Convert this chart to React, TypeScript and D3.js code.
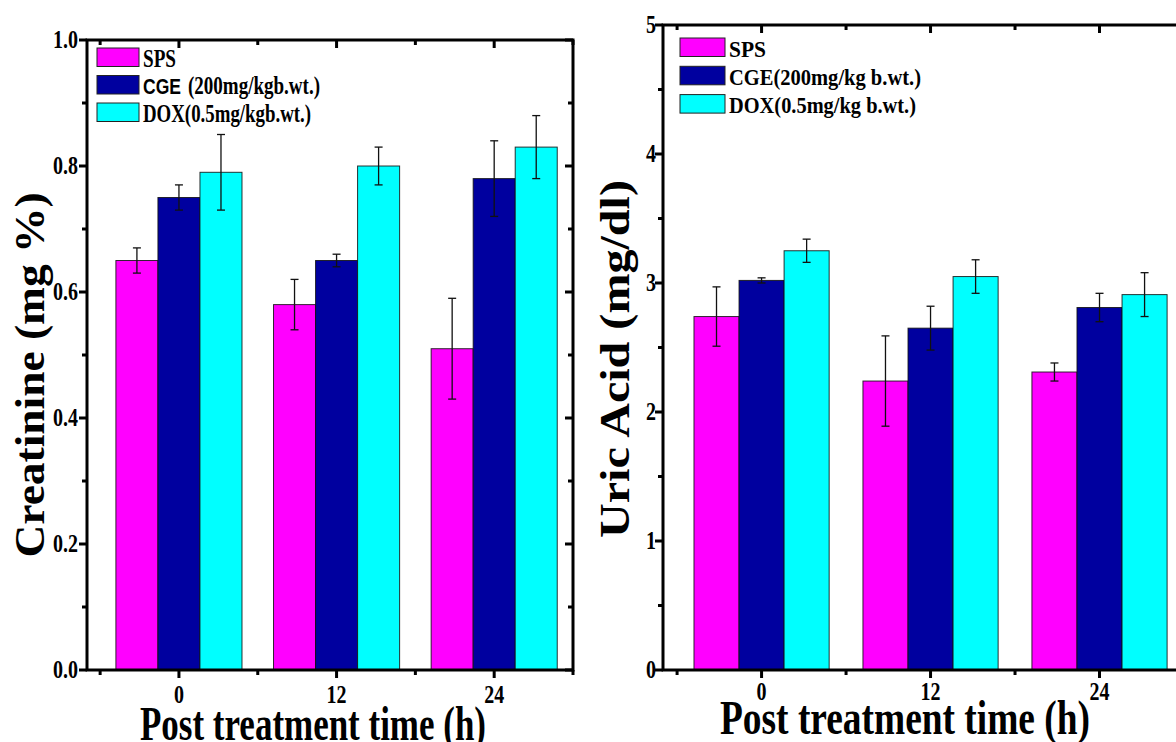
import * as d3 from 'd3';

// time points (h) and treatment groups
const timePoints = [0, 12, 24];
const groupColors = ['#ff00ff', '#00009f', '#00ffff'];

// Creatinine (mg %)
const creatSPS = [0.65, 0.58, 0.51];
const creatSPSErr = [0.02, 0.04, 0.08];
const creatCGE = [0.75, 0.65, 0.78];
const creatCGEErr = [0.02, 0.01, 0.06];
const creatDOX = [0.79, 0.8, 0.83];
const creatDOXErr = [0.06, 0.03, 0.05];

// Uric acid (mg/dl)
const uricSPS = [2.74, 2.24, 2.31];
const uricSPSErr = [0.23, 0.35, 0.07];
const uricCGE = [3.02, 2.65, 2.81];
const uricCGEErr = [0.02, 0.17, 0.11];
const uricDOX = [3.25, 3.05, 2.91];
const uricDOXErr = [0.09, 0.13, 0.17];

const creatTicks = [0, 0.2, 0.4, 0.6, 0.8, 1.0];
const creatMinor = [0.1, 0.3, 0.5, 0.7, 0.9];
const uricTicks = [0, 1, 2, 3, 4, 5];
const uricMinor = [0.5, 1.5, 2.5, 3.5, 4.5];
const xMajor = [0, 12, 24];
const xMinor = [-6, 6, 18, 30];

const SERIF = "'Liberation Serif', 'Times New Roman', serif";
const SANS = "'Liberation Sans', Arial, sans-serif";
const SQUEEZE = 0.8; // the original fonts are narrow

type LegendItem = { label: string; width: number; sans?: string; sansWidth?: number };

type PanelProps = {
  left: number;
  right: number;
  top: number;
  bottom: number;
  yMax: number;
  yTicks: number[];
  yMinor: number[];
  yFormat: (v: number) => string;
  means: number[][];
  errs: number[][];
  yTitle: string;
  yTitleLen: number;
  yTitleX: number;
  yTitleY: number;
  xTitleX: number;
  xTitleY: number;
  xTitleLen: number;
  xLabelY: number;
  yLabelX: number;
  legendX: number;
  legendY: number;
  legendStep: number;
  legendW: number;
  legendFont: number;
  legend: LegendItem[];
};

function Narrow({ x, y, anchor, size, children }: { x: number; y: number; anchor: string; size: number; children: any }) {
  return (
    <g transform={`translate(${x},${y}) scale(${SQUEEZE},1)`}>
      <text x={0} y={0} textAnchor={anchor} fontSize={size}>
        {children}
      </text>
    </g>
  );
}

function Panel(p: PanelProps) {
  const x = d3.scaleLinear().domain([-7, 30]).range([p.left, p.right]);
  const y = d3.scaleLinear().domain([0, p.yMax]).range([p.bottom, p.top]);
  const bw = x(3.2) - x(0);
  const major = 8;
  const minor = 5;

  return (
    <g>
      {timePoints.map((t, ti) =>
        p.means.map((m, gi) => {
          const bx = x(t - 4.8 + gi * 3.2);
          return (
            <rect
              key={`b${ti}-${gi}`}
              x={bx}
              y={y(m[ti])}
              width={bw}
              height={y(0) - y(m[ti])}
              fill={groupColors[gi]}
              stroke="#111"
              strokeWidth={1}
              strokeOpacity={0.85}
            />
          );
        })
      )}
      {timePoints.map((t, ti) =>
        p.means.map((m, gi) => {
          const cx = x(t - 3.2 + gi * 3.2);
          const hi = y(m[ti] + p.errs[gi][ti]);
          const lo = y(m[ti] - p.errs[gi][ti]);
          return (
            <g key={`e${ti}-${gi}`} stroke="#111" strokeWidth={1.3}>
              <line x1={cx} x2={cx} y1={hi} y2={lo} />
              <line x1={cx - 4} x2={cx + 4} y1={hi} y2={hi} />
              <line x1={cx - 4} x2={cx + 4} y1={lo} y2={lo} />
            </g>
          );
        })
      )}

      {/* frame */}
      <g stroke="#000" strokeWidth={3} fill="none">
        <rect x={p.left} y={p.top} width={p.right - p.left} height={p.bottom - p.top} />
        {p.yTicks.map(v => (
          <g key={`yt${v}`}>
            <line x1={p.left - major} x2={p.left} y1={y(v)} y2={y(v)} />
            <line x1={p.right - major} x2={p.right} y1={y(v)} y2={y(v)} />
          </g>
        ))}
        {p.yMinor.map(v => (
          <g key={`ym${v}`}>
            <line x1={p.left - minor} x2={p.left} y1={y(v)} y2={y(v)} />
            <line x1={p.right - minor} x2={p.right} y1={y(v)} y2={y(v)} />
          </g>
        ))}
        {xMajor.map(v => (
          <g key={`xt${v}`}>
            <line x1={x(v)} x2={x(v)} y1={p.bottom} y2={p.bottom + major} />
            <line x1={x(v)} x2={x(v)} y1={p.top} y2={p.top + major} />
          </g>
        ))}
        {xMinor.map(v => (
          <g key={`xm${v}`}>
            <line x1={x(v)} x2={x(v)} y1={p.bottom} y2={p.bottom + minor} />
            <line x1={x(v)} x2={x(v)} y1={p.top} y2={p.top + minor} />
          </g>
        ))}
      </g>

      <g fontFamily={SERIF} fontWeight="bold" fill="#000">
        {p.yTicks.map(v => (
          <Narrow key={`yl${v}`} x={p.yLabelX} y={y(v) + 8} anchor="end" size={25}>
            {p.yFormat(v)}
          </Narrow>
        ))}
        {xMajor.map(v => (
          <Narrow key={`xl${v}`} x={x(v)} y={p.xLabelY} anchor="middle" size={25}>
            {v}
          </Narrow>
        ))}
        <text
          transform={`translate(${p.yTitleX},${p.yTitleY}) rotate(-90)`}
          textAnchor="middle"
          fontSize={43}
          textLength={p.yTitleLen}
          lengthAdjust="spacingAndGlyphs"
        >
          {p.yTitle}
        </text>
        <text
          x={p.xTitleX}
          y={p.xTitleY}
          fontSize={48}
          textLength={p.xTitleLen}
          lengthAdjust="spacingAndGlyphs"
        >
          Post treatment time (h)
        </text>
      </g>

      {/* legend */}
      <g>
        {p.legend.map((item, i) => {
          const ly = p.legendY + i * p.legendStep;
          const tx = p.legendX + p.legendW + 4;
          const base = ly + 18.5;
          return (
            <g key={`lg${i}`}>
              <rect x={p.legendX} y={ly} width={p.legendW} height={18.5} fill={groupColors[i]} stroke="#222" strokeWidth={1} />
              {item.sans ? (
                <>
                  <text x={tx} y={base} fontFamily={SANS} fontWeight="bold" fontSize={p.legendFont - 3} textLength={item.sansWidth} lengthAdjust="spacingAndGlyphs">
                    {item.sans}
                  </text>
                  <text x={tx + (item.sansWidth || 0) + 7} y={base} fontFamily={SERIF} fontWeight="bold" fontSize={p.legendFont} textLength={item.width} lengthAdjust="spacingAndGlyphs">
                    {item.label}
                  </text>
                </>
              ) : (
                <text x={tx} y={base} fontFamily={SERIF} fontWeight="bold" fontSize={p.legendFont} textLength={item.width} lengthAdjust="spacingAndGlyphs">
                  {item.label}
                </text>
              )}
            </g>
          );
        })}
      </g>
    </g>
  );
}

export default function App() {
  return (
    <svg
      width={1176}
      height={742}
      style={{ position: 'absolute', left: 0, top: 0, background: '#fff' }}
    >
      <rect width={1176} height={742} fill="#fff" />
      <Panel
        left={87}
        right={573}
        top={40}
        bottom={670}
        yMax={1}
        yTicks={creatTicks}
        yMinor={creatMinor}
        yFormat={v => v.toFixed(1)}
        means={[creatSPS, creatCGE, creatDOX]}
        errs={[creatSPSErr, creatCGEErr, creatDOXErr]}
        yTitle="Creatinine (mg %)"
        yTitleLen={365}
        yTitleX={44}
        yTitleY={375}
        xTitleX={140}
        xTitleY={740}
        xTitleLen={346}
        xLabelY={703}
        yLabelX={78}
        legendX={97}
        legendY={48}
        legendStep={27.5}
        legendW={42}
        legendFont={25}
        legend={[
          { label: 'SPS', width: 33 },
          { sans: 'CGE', sansWidth: 38, label: '(200mg/kgb.wt.)', width: 132 },
          { label: 'DOX(0.5mg/kgb.wt.)', width: 168 },
        ]}
      />
      <Panel
        left={663}
        right={1184}
        top={25}
        bottom={670}
        yMax={5}
        yTicks={uricTicks}
        yMinor={uricMinor}
        yFormat={v => String(v)}
        means={[uricSPS, uricCGE, uricDOX]}
        errs={[uricSPSErr, uricCGEErr, uricDOXErr]}
        yTitle="Uric Acid (mg/dl)"
        yTitleLen={358}
        yTitleX={629}
        yTitleY={359}
        xTitleX={720}
        xTitleY={734}
        xTitleLen={370}
        xLabelY={700}
        yLabelX={656}
        legendX={680}
        legendY={38}
        legendStep={28.3}
        legendW={45}
        legendFont={24}
        legend={[
          { label: 'SPS', width: 37 },
          { label: 'CGE(200mg/kg b.wt.)', width: 192 },
          { label: 'DOX(0.5mg/kg b.wt.)', width: 187 },
        ]}
      />
    </svg>
  );
}
